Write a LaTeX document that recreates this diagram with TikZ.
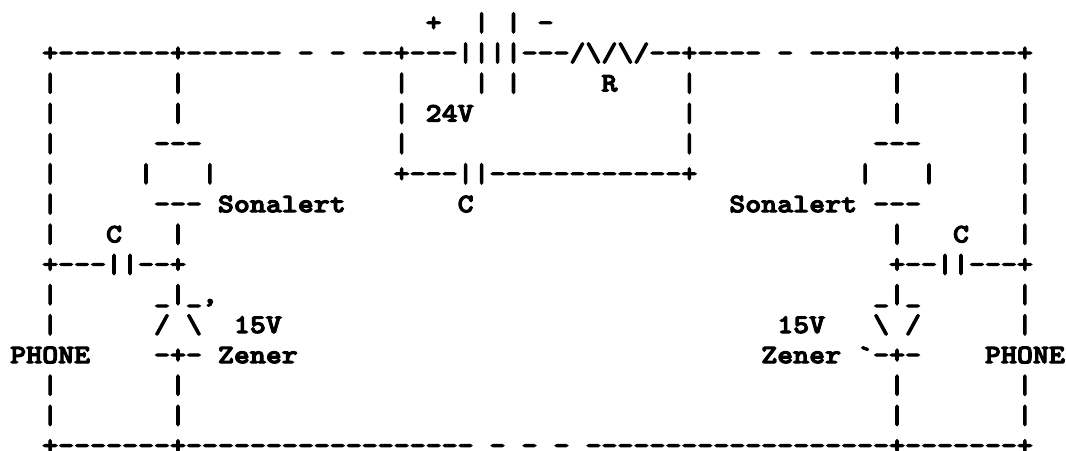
\documentclass[tikz,border=0pt]{standalone}
\usepackage{fontspec}
\setmonofont{Latin Modern Mono Light}[FakeStretch=1.14,BoldFont=*/B,BoldFeatures={FakeBold=4}]
\newcommand{\bs}{\textbackslash}

\begin{document}
\begin{tikzpicture}[x=1pt,y=-1pt]
            \useasboundingbox (0,0) rectangle (1066,450);
            \begin{scope}[every node/.style={anchor=base west,inner sep=0pt,text=black,font=\fontsize{26.7pt}{30pt}\ttfamily\bfseries}]
                \node (row0) at (10,31) {~~~~~~~~~~~~~~~~~~~~~~~~~~+~~|~|~-};
                \node (row1) at (10,61.2) {~~+-------+------~-~-~--+---||||---/\bs/\bs/--+----~-~-----+-------+};
                \node (row2) at (10,91.4) {~~|~~~~~~~|~~~~~~~~~~~~~|~~~~|~|~~~~~R~~~~|~~~~~~~~~~~~|~~~~~~~|};
                \node (row3) at (10,121.6) {~~|~~~~~~~|~~~~~~~~~~~~~|~24V~~~~~~~~~~~~~|~~~~~~~~~~~~|~~~~~~~|};
                \node (row4) at (10,151.8) {~~|~~~~~~---~~~~~~~~~~~~|~~~~~~~~~~~~~~~~~|~~~~~~~~~~~---~~~~~~|};
                \node (row5) at (10,182) {~~|~~~~~|~~~|~~~~~~~~~~~+---||------------+~~~~~~~~~~|~~~|~~~~~|};
                \node (row6) at (10,212.2) {~~|~~~~~~---~Sonalert~~~~~~~C~~~~~~~~~~~~~~~~Sonalert~---~~~~~~|};
                \node (row7) at (10,242.4) {~~|~~~C~~~|~~~~~~~~~~~~~~~~~~~~~~~~~~~~~~~~~~~~~~~~~~~~|~~~C~~~|};
                \node (row8) at (10,272.6) {~~+---||--+~~~~~~~~~~~~~~~~~~~~~~~~~~~~~~~~~~~~~~~~~~~~+--||---+};
                \node (row9) at (10,302.8) {~~|~~~~~~\_|\_,~~~~~~~~~~~~~~~~~~~~~~~~~~~~~~~~~~~~~~~~~\_|\_~~~~~~|};
                \node (row10) at (10,333) {~~|~~~~~~/~\bs~~15V~~~~~~~~~~~~~~~~~~~~~~~~~~~~~~~15V~~~\bs~/~~~~~~|};
                \node (row11) at (10,363.2) {PHONE~~~~-+-~Zener~~~~~~~~~~~~~~~~~~~~~~~~~~~~~Zener~`-+-~~~~PHONE};
                \node (row12) at (10,393.4) {~~|~~~~~~~|~~~~~~~~~~~~~~~~~~~~~~~~~~~~~~~~~~~~~~~~~~~~|~~~~~~~|};
                \node (row13) at (10,423.6) {~~|~~~~~~~|~~~~~~~~~~~~~~~~~~~~~~~~~~~~~~~~~~~~~~~~~~~~|~~~~~~~|};
                \node (row14) at (10,453.8) {~~+-------+------------------~-~-~-~-------------------+-------+};
            \end{scope}
        \end{tikzpicture}
\end{document}
